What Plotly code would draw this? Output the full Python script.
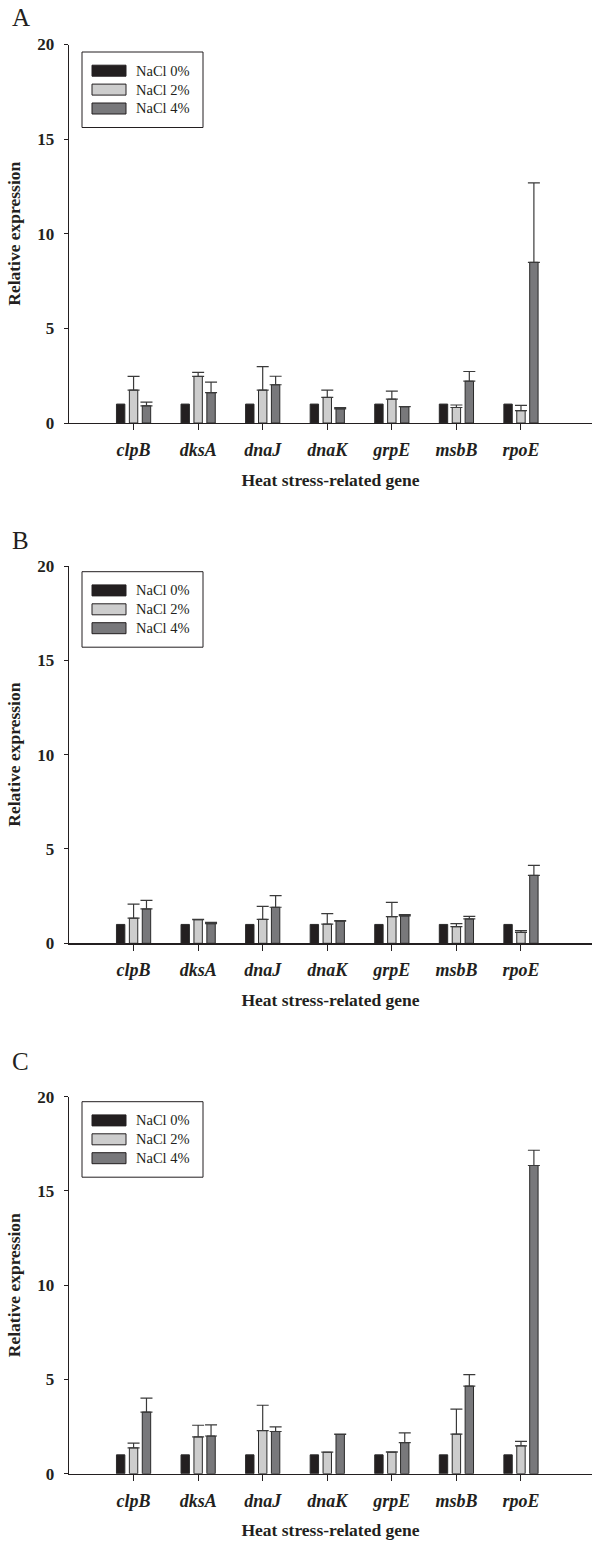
import plotly.graph_objects as go

# ---------------- data ----------------
genes = ["clpB", "dksA", "dnaJ", "dnaK", "grpE", "msbB", "rpoE"]
series_names = ["NaCl 0%", "NaCl 2%", "NaCl 4%"]
panel_labels = ["A", "B", "C"]
y_ticks = [0, 5, 10, 15, 20]

# Panel A
a_nacl0 = [1.0, 1.0, 1.0, 1.0, 1.0, 1.0, 1.0]
a_nacl2 = [1.74, 2.46, 1.74, 1.35, 1.26, 0.82, 0.65]
a_nacl2_sd = [0.72, 0.22, 1.24, 0.39, 0.42, 0.13, 0.28]
a_nacl4 = [0.91, 1.60, 2.02, 0.75, 0.86, 2.21, 8.49]
a_nacl4_sd = [0.19, 0.56, 0.45, 0.06, 0.01, 0.51, 4.20]

# Panel B
b_nacl0 = [1.0, 1.0, 1.0, 1.0, 1.0, 1.0, 1.0]
b_nacl2 = [1.33, 1.25, 1.27, 1.02, 1.41, 0.88, 0.58]
b_nacl2_sd = [0.75, 0.02, 0.69, 0.55, 0.76, 0.16, 0.09]
b_nacl4 = [1.82, 1.04, 1.91, 1.17, 1.45, 1.29, 3.60]
b_nacl4_sd = [0.46, 0.07, 0.62, 0.03, 0.07, 0.14, 0.53]

# Panel C
c_nacl0 = [1.0, 1.0, 1.0, 1.0, 1.0, 1.0, 1.0]
c_nacl2 = [1.37, 1.95, 2.29, 1.14, 1.14, 2.10, 1.48]
c_nacl2_sd = [0.25, 0.62, 1.34, 0.01, 0.02, 1.33, 0.23]
c_nacl4 = [3.27, 2.00, 2.24, 2.08, 1.65, 4.65, 16.35]
c_nacl4_sd = [0.74, 0.59, 0.24, 0.02, 0.52, 0.61, 0.81]

panels = [
    (a_nacl0, a_nacl2, a_nacl2_sd, a_nacl4, a_nacl4_sd),
    (b_nacl0, b_nacl2, b_nacl2_sd, b_nacl4, b_nacl4_sd),
    (c_nacl0, c_nacl2, c_nacl2_sd, c_nacl4, c_nacl4_sd),
]

# ---------------- style ----------------
W, H = 592, 1542
INK = "#231f20"
FILLS = ["#231f20", "#cdcdcd", "#78787b"]
SERIF = "Liberation Serif, Times New Roman, serif"

# pixel positions (top, bottom) of each plot area
panel_px = [(44.5, 423.0), (566.0, 943.3), (1096.7, 1473.7)]
legend_top_px = [52.0, 571.7, 1101.7]
letter_y_px = [17.5, 540.7, 1061.7]
x_left_px = 69.0


def py(p):
    return 1 - p / H


fig = go.Figure()
shapes = []
annotations = []

for i, (s0, s2, s2sd, s4, s4sd) in enumerate(panels):
    xa = "x" if i == 0 else f"x{i+1}"
    ya = "y" if i == 0 else f"y{i+1}"
    vals = [s0, s2, s4]
    sds = [None, s2sd, s4sd]
    for k in range(3):
        eb = dict(visible=False)
        if sds[k] is not None:
            eb = dict(type="data", array=sds[k], arrayminus=[0] * len(genes),
                      symmetric=False, color="#3a3a3a", thickness=1.2, width=6)
        fig.add_trace(go.Bar(
            x=genes, y=vals[k], name=series_names[k],
            marker=dict(color=FILLS[k], line=dict(color="#2a2a2a", width=1)),
            error_y=eb, xaxis=xa, yaxis=ya, showlegend=False,
        ))

    top, bot = panel_px[i]
    xkey = "xaxis" if i == 0 else f"xaxis{i+1}"
    ykey = "yaxis" if i == 0 else f"yaxis{i+1}"
    fig.layout[xkey] = dict(
        domain=[x_left_px / W, 1.0], anchor=ya, type="category",
        range=[-1.0, 7.1], showline=True, linecolor=INK, linewidth=1.4,
        ticks="outside", ticklen=6, tickwidth=1, tickcolor=INK,
        showgrid=False, zeroline=False, automargin=False,
        tickfont=dict(family=SERIF, size=18, color=INK, weight="bold", style="italic"),
        ticklabelstandoff=4,
        title=dict(text="Heat stress-related gene", standoff=14,
                   font=dict(family=SERIF, size=17.5, color=INK, weight="bold")),
    )
    fig.layout[ykey] = dict(
        domain=[py(bot), py(top)], anchor=xa, range=[0, 20],
        tickvals=y_ticks, ticktext=[str(t) for t in y_ticks],
        showline=True, linecolor=INK, linewidth=1.4,
        ticks="outside", ticklen=4, tickwidth=1, tickcolor=INK,
        showgrid=False, zeroline=False, automargin=False,
        tickfont=dict(family=SERIF, size=17, color=INK, weight="bold"),
        ticklabelstandoff=6,
        title=dict(text="Relative expression", standoff=12,
                   font=dict(family=SERIF, size=17.5, color=INK, weight="bold")),
    )

    # panel letter
    annotations.append(dict(
        text=panel_labels[i], x=10 / W, y=py(letter_y_px[i]), xref="paper", yref="paper",
        xanchor="left", yanchor="middle", showarrow=False,
        font=dict(family=SERIF, size=25, color=INK),
    ))

    # legend box
    lt = legend_top_px[i]
    shapes.append(dict(type="rect", xref="paper", yref="paper",
                       x0=82 / W, x1=203 / W, y0=py(lt + 75.5), y1=py(lt),
                       line=dict(color=INK, width=1), fillcolor="white"))
    for k in range(3):
        cy = lt + 18.7 + 18.9 * k
        shapes.append(dict(type="rect", xref="paper", yref="paper",
                           x0=92 / W, x1=126 / W, y0=py(cy + 5.5), y1=py(cy - 5.5),
                           line=dict(color=INK, width=1), fillcolor=FILLS[k]))
        annotations.append(dict(
            text=series_names[k], x=134 / W, y=py(cy), xref="paper", yref="paper",
            xanchor="left", yanchor="middle", showarrow=False,
            font=dict(family=SERIF, size=14.5, color=INK),
        ))

fig.update_layout(
    width=W, height=H, margin=dict(l=0, r=0, t=0, b=0),
    paper_bgcolor="white", plot_bgcolor="white",
    barmode="group", bargap=0.4, bargroupgap=0.35,
    shapes=shapes, annotations=annotations, showlegend=False,
)

fig.write_html(
    "out.html",
    config={"displayModeBar": False, "staticPlot": True},
    post_script="document.body.style.margin='0';document.body.style.padding='0';",
)
